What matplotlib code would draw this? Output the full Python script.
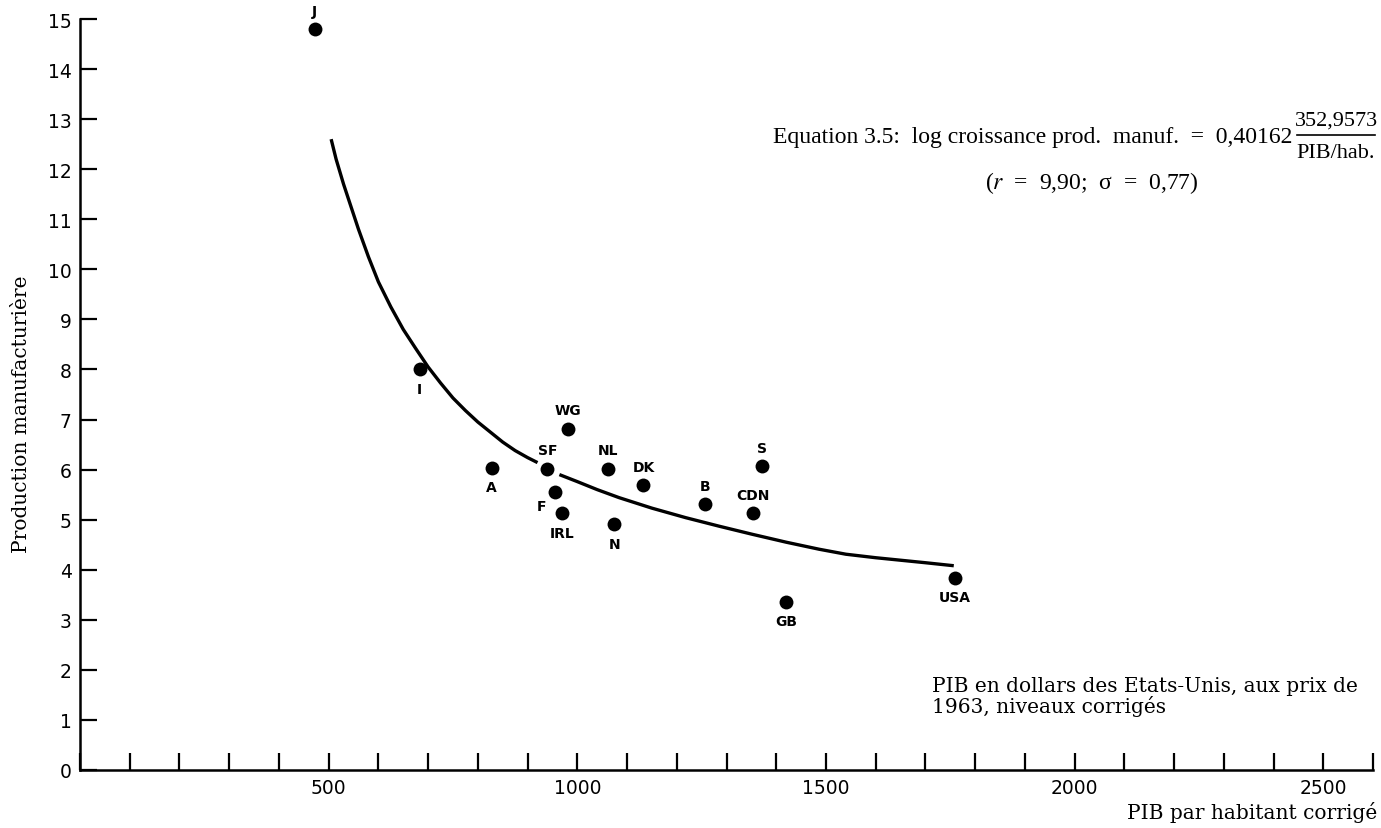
import numpy as np
import matplotlib
matplotlib.use("Agg")
import matplotlib.pyplot as plt

plt.rcParams["mathtext.fontset"] = "stix"

# countries: PIB par habitant corrigé (x), croissance prod. manuf. (y)
codes = ["J", "I", "A", "SF", "WG", "NL", "DK", "F", "IRL", "N", "B", "S", "CDN", "GB", "USA"]
pib = [472, 683, 828, 940, 982, 1061, 1133, 955, 970, 1074, 1257, 1371, 1354, 1420, 1759]
prod = [14.8, 8.0, 6.04, 6.02, 6.82, 6.02, 5.69, 5.56, 5.13, 4.91, 5.32, 6.07, 5.13, 3.36, 3.84]
# where each label sits: a = above, b = below, l = lower left
label_pos = ["a", "b", "b", "a", "a", "a", "a", "l", "b", "b", "a", "a", "a", "b", "b"]

# fitted curve (broken around the SF point)
curve1_x = [505, 515, 530, 545, 560, 580, 600, 625, 650, 675, 700, 725, 750, 775, 800, 825, 850, 875, 900, 920]
curve1_y = [12.6, 12.2, 11.7, 11.25, 10.8, 10.25, 9.75, 9.25, 8.8, 8.42, 8.05, 7.73, 7.43, 7.18, 6.95, 6.75, 6.55, 6.38, 6.24, 6.14]
curve2_x = [964, 1000, 1040, 1084, 1150, 1218, 1285, 1351, 1420, 1486, 1540, 1600, 1650, 1700, 1757]
curve2_y = [5.90, 5.76, 5.60, 5.44, 5.23, 5.04, 4.87, 4.71, 4.55, 4.41, 4.31, 4.24, 4.19, 4.14, 4.08]

x_ticks = list(range(0, 2601, 100))
x_labels = [str(v) if v % 500 == 0 and v > 0 else "" for v in x_ticks]
y_ticks = list(range(0, 16))

fig = plt.figure(figsize=(13.81, 8.29), dpi=100)
ax = fig.add_axes([80 / 1381, 58 / 829, 1293 / 1381, 751 / 829])

ax.plot(curve1_x, curve1_y, color="black", lw=2.4, solid_capstyle="butt", solid_joinstyle="round")
ax.plot(curve2_x, curve2_y, color="black", lw=2.4, solid_capstyle="butt", solid_joinstyle="round")
ax.scatter(pib, prod, s=100, color="black", zorder=3, linewidths=0, clip_on=False)

offsets = {"a": (0, 8, "center", "bottom"), "b": (0, -9, "center", "top"),
           "l": (-6, -5, "right", "top")}
for c, x, y, p in zip(codes, pib, prod, label_pos):
    dx, dy, ha, va = offsets[p]
    ax.annotate(c, (x, y), xytext=(dx, dy), textcoords="offset points",
                ha=ha, va=va, fontsize=10, fontweight="bold", family="DejaVu Sans",
                annotation_clip=False)

ax.set_xlim(0, 2600)
ax.set_ylim(0, 15)
ax.set_xticks(x_ticks)
ax.set_xticklabels(x_labels)
ax.set_yticks(y_ticks)
ax.tick_params(direction="in", length=12, width=1.6, labelsize=13.5, pad=6)
ax.spines["top"].set_visible(False)
ax.spines["right"].set_visible(False)
ax.spines["left"].set_linewidth(1.8)
ax.spines["bottom"].set_linewidth(1.8)

serif = "DejaVu Serif"
times = "Liberation Serif"
fs = 14.5
fig.text(22 / 1381, 1 - 414 / 829, "Production manufacturière", rotation=90,
         ha="center", va="center", fontsize=14.5, family=serif)
fig.text(1377 / 1381, 1 - 813 / 829, "PIB par habitant corrigé", ha="right",
         va="center", fontsize=fs, family=serif)
fig.text(932 / 1381, 1 - 697 / 829, "PIB en dollars des Etats-Unis, aux prix de\n1963, niveaux corrigés",
         ha="left", va="center", fontsize=fs, family=serif, linespacing=1.05)

# equation block, fraction right-aligned at the right edge
efs = 17
fig.text(1292 / 1381, 1 - 138 / 829,
         "Equation 3.5:  log croissance prod.  manuf.  =  0,40162",
         ha="right", va="center", fontsize=efs, family=times)
fig.text(1336 / 1381, 1 - 121 / 829, "352,9573", ha="center", va="center",
         fontsize=16, family=times)
fig.text(1336 / 1381, 1 - 153 / 829, "PIB/hab.", ha="center", va="center",
         fontsize=16, family=times)
fig.add_artist(plt.Line2D([1297 / 1381, 1375 / 1381], [1 - 136 / 829, 1 - 136 / 829],
                          color="black", lw=1.2))
fig.text(1092 / 1381, 1 - 183 / 829, "($r$  =  9,90;  σ  =  0,77)", ha="center", va="center",
         fontsize=efs, family=times)

fig.savefig("out.png", dpi=100)
